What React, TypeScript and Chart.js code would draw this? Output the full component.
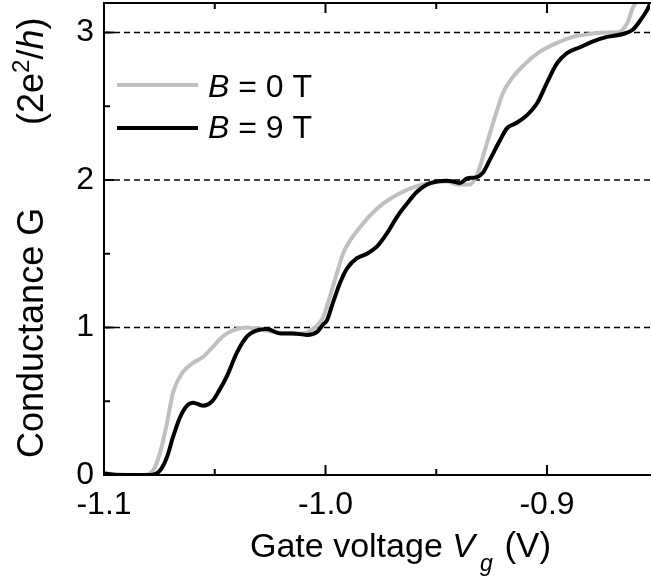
import React, { useEffect, useRef } from "react";
import { Chart, registerables } from "chart.js";

Chart.register(...registerables);

// B = 0 T (gray)
const V_B0 = [-1.1, -1.0824, -1.0779, -1.0747, -1.0716, -1.0688, -1.0648, -1.0598, -1.0553, -1.0508, -1.0463, -1.0418, -1.0354, -1.0309, -1.0205, -1.0115, -1.0056, -1.0011, -0.998, -0.9948, -0.9921, -0.9889, -0.9844, -0.9799, -0.974, -0.9677, -0.9605, -0.9528, -0.9451, -0.9406, -0.9348, -0.9312, -0.9289, -0.9257, -0.9226, -0.9199, -0.9153, -0.909, -0.9032, -0.8955, -0.8883, -0.8806, -0.8729, -0.8684, -0.8639, -0.8612, -0.8594, -0.8575];
const G_B0 = [0.01, 0.0, 0.03, 0.15, 0.35, 0.56, 0.69, 0.76, 0.8, 0.87, 0.94, 0.98, 1.0, 0.99, 0.965, 0.96, 0.99, 1.07, 1.21, 1.37, 1.5, 1.59, 1.68, 1.76, 1.84, 1.9, 1.95, 1.98, 1.99, 1.97, 1.97, 2.05, 2.16, 2.32, 2.47, 2.59, 2.7, 2.8, 2.87, 2.93, 2.97, 2.99, 3.0, 3.0, 3.06, 3.17, 3.22, 3.35];

// B = 9 T (black)
const V_B9 = [-1.1, -1.092, -1.0792, -1.0747, -1.0716, -1.0688, -1.0657, -1.0625, -1.0598, -1.0553, -1.0512, -1.0485, -1.0445, -1.04, -1.0354, -1.0309, -1.0264, -1.0205, -1.0147, -1.0084, -1.0038, -1.0011, -0.9993, -0.9966, -0.9935, -0.9903, -0.9858, -0.9813, -0.9767, -0.9722, -0.9677, -0.9632, -0.9587, -0.9542, -0.9497, -0.9451, -0.9424, -0.9393, -0.9361, -0.9316, -0.9289, -0.9257, -0.9212, -0.9181, -0.9135, -0.909, -0.9045, -0.9, -0.8955, -0.891, -0.8851, -0.8792, -0.8729, -0.8657, -0.8612, -0.858, -0.8549, -0.853];
const G_B9 = [0.01, 0.0, 0.0, 0.03, 0.12, 0.26, 0.39, 0.47, 0.49, 0.47, 0.5, 0.56, 0.67, 0.83, 0.94, 0.98, 0.99, 0.96, 0.96, 0.95, 0.97, 1.02, 1.05, 1.17, 1.3, 1.4, 1.47, 1.5, 1.55, 1.64, 1.75, 1.84, 1.92, 1.97, 1.99, 1.995, 1.99, 1.98, 2.01, 2.02, 2.05, 2.14, 2.27, 2.35, 2.39, 2.44, 2.52, 2.66, 2.79, 2.86, 2.9, 2.94, 2.97, 2.99, 3.02, 3.08, 3.15, 3.21];

const LEGEND_LABELS = ["0", "9"];
const X_TICKS = [-1.1, -1.0, -0.9];
const X_MINOR = [-1.05, -0.95];
const Y_TICKS = [0, 1, 2, 3];
const Y_MINOR = [0.5, 1.5, 2.5];
const PLATEAUS = [1, 2, 3];
const X_MIN = -1.1;
const X_MAX = -0.8535;
const Y_MIN = 0;
const Y_MAX = 3.2;

const FONT = "'Liberation Sans', Arial, Helvetica, sans-serif";
const GRAY = "#c0c0c0";

function drawRuns(ctx: CanvasRenderingContext2D, x: number, y: number, runs: { t: string; f: string; dy?: number; dx?: number }[]) {
  let cx = x;
  for (const r of runs) {
    ctx.font = r.f;
    cx += r.dx || 0;
    ctx.fillText(r.t, cx, y + (r.dy || 0));
    cx += ctx.measureText(r.t).width;
  }
  return cx;
}

const decor = {
  id: "decor",
  beforeDatasetsDraw(chart: any) {
    const { ctx, chartArea: a, scales } = chart;
    const y = scales.y;
    ctx.save();
    ctx.strokeStyle = "#000";
    ctx.lineWidth = 1.4;
    ctx.setLineDash([6, 4]);
    for (const p of PLATEAUS) {
      const py = y.getPixelForValue(p);
      ctx.beginPath();
      ctx.moveTo(a.left, py);
      ctx.lineTo(a.right + 2, py);
      ctx.stroke();
    }
    ctx.restore();
  },
  afterDraw(chart: any) {
    const { ctx, chartArea: a, scales } = chart;
    const x = scales.x;
    const y = scales.y;
    ctx.save();
    ctx.strokeStyle = "#000";
    ctx.lineWidth = 2;
    ctx.setLineDash([]);
    // frame: left, top, bottom
    ctx.beginPath();
    ctx.moveTo(a.right + 2, a.top);
    ctx.lineTo(a.left, a.top);
    ctx.lineTo(a.left, a.bottom);
    ctx.lineTo(a.right + 2, a.bottom);
    ctx.stroke();
    // ticks (inward)
    const tick = (vals: number[], len: number) => {
      for (const v of vals) {
        const px = x.getPixelForValue(v);
        ctx.beginPath();
        ctx.moveTo(px, a.bottom);
        ctx.lineTo(px, a.bottom - len);
        ctx.moveTo(px, a.top);
        ctx.lineTo(px, a.top + len);
        ctx.stroke();
      }
    };
    tick(X_TICKS, 10);
    tick(X_MINOR, 6);
    const ytick = (vals: number[], len: number) => {
      for (const v of vals) {
        const py = y.getPixelForValue(v);
        ctx.beginPath();
        ctx.moveTo(a.left, py);
        ctx.lineTo(a.left + len, py);
        ctx.stroke();
      }
    };
    ytick(Y_TICKS, 10);
    ytick(Y_MINOR, 6);

    // legend
    const rows = [
      { color: GRAY, label: LEGEND_LABELS[0], ly: 85, ty: 97 },
      { color: "#000", label: LEGEND_LABELS[1], ly: 128, ty: 138 },
    ];
    ctx.lineCap = "butt";
    for (const r of rows) {
      ctx.strokeStyle = r.color;
      ctx.lineWidth = 4;
      ctx.beginPath();
      ctx.moveTo(117, r.ly);
      ctx.lineTo(198, r.ly);
      ctx.stroke();
      ctx.fillStyle = "#000";
      ctx.textBaseline = "alphabetic";
      ctx.textAlign = "left";
      drawRuns(ctx, 208, r.ty, [
        { t: "B", f: `italic 32px ${FONT}` },
        { t: ` = ${r.label} T`, f: `32px ${FONT}` },
      ]);
    }

    // x title
    ctx.fillStyle = "#000";
    ctx.textBaseline = "alphabetic";
    ctx.textAlign = "left";
    drawRuns(ctx, 250, 557, [
      { t: "Gate voltage ", f: `34px ${FONT}` },
      { t: "V", f: `italic 34px ${FONT}` },
      { t: "g", f: `italic 23px ${FONT}`, dy: 14, dx: 5 },
      { t: " (V)", f: `35px ${FONT}`, dx: 2 },
    ]);

    // y title (rotated)
    ctx.save();
    ctx.translate(43, 458);
    ctx.rotate(-Math.PI / 2);
    drawRuns(ctx, 0, 0, [{ t: "Conductance G", f: `36px ${FONT}` }]);
    drawRuns(ctx, 458 - 125, 0, [
      { t: "(2e", f: `36px ${FONT}` },
      { t: "2", f: `24px ${FONT}`, dy: -14 },
      { t: "/", f: `36px ${FONT}` },
      { t: "h", f: `italic 36px ${FONT}` },
      { t: ")", f: `36px ${FONT}` },
    ]);
    ctx.restore();

    ctx.restore();
  },
};

export default function App() {
  const ref = useRef<HTMLCanvasElement | null>(null);
  useEffect(() => {
    document.body.style.margin = "0";
    const canvas = ref.current!;
    const chart = new Chart(canvas, {
      type: "line",
      data: {
        datasets: [
          {
            label: "B = 0 T",
            data: V_B0.map((v, i) => ({ x: v, y: G_B0[i] })),
            borderColor: GRAY,
            borderWidth: 4,
            pointRadius: 0,
            cubicInterpolationMode: "monotone",
            fill: false,
            order: 1,
            clip: 0,
          },
          {
            label: "B = 9 T",
            data: V_B9.map((v, i) => ({ x: v, y: G_B9[i] })),
            borderColor: "#000",
            borderWidth: 4,
            pointRadius: 0,
            cubicInterpolationMode: "monotone",
            fill: false,
            order: 0,
            clip: 0,
          },
        ],
      },
      options: {
        animation: false,
        responsive: false,
        devicePixelRatio: 1,
        layout: { padding: { left: 0, right: 1, top: 3, bottom: 0 } },
        plugins: { legend: { display: false }, tooltip: { enabled: false } },
        scales: {
          x: {
            type: "linear",
            min: X_MIN,
            max: X_MAX,
            grid: { display: false, drawTicks: false },
            border: { display: false },
            afterBuildTicks: (s: any) => {
              s.ticks = X_TICKS.map((v) => ({ value: v }));
            },
            afterFit: (s: any) => {
              s.height = 110;
              s.paddingLeft = 0;
              s.paddingRight = 0;
              s.paddingTop = 0;
              s.paddingBottom = 0;
            },
            ticks: {
              padding: 11,
              color: "#000",
              font: { family: FONT, size: 32 },
              maxRotation: 0,
              autoSkip: false,
              callback: (v: any) => Number(v).toFixed(1),
            },
          },
          y: {
            type: "linear",
            min: Y_MIN,
            max: Y_MAX,
            grid: { display: false, drawTicks: false },
            border: { display: false },
            afterBuildTicks: (s: any) => {
              s.ticks = Y_TICKS.map((v) => ({ value: v }));
            },
            afterFit: (s: any) => {
              s.width = 104;
              s.paddingLeft = 0;
              s.paddingRight = 0;
              s.paddingTop = 0;
              s.paddingBottom = 0;
            },
            ticks: {
              padding: 10,
              color: "#000",
              font: { family: FONT, size: 32 },
              autoSkip: false,
              callback: (v: any) => String(v),
            },
          },
        },
      },
      plugins: [decor],
    } as any);
    return () => chart.destroy();
  }, []);
  return (
    <div style={{ position: "fixed", left: 0, top: 0, width: 651, height: 585, background: "#fff" }}>
      <canvas ref={ref} width={651} height={585} style={{ width: 651, height: 585, display: "block" }} />
    </div>
  );
}
